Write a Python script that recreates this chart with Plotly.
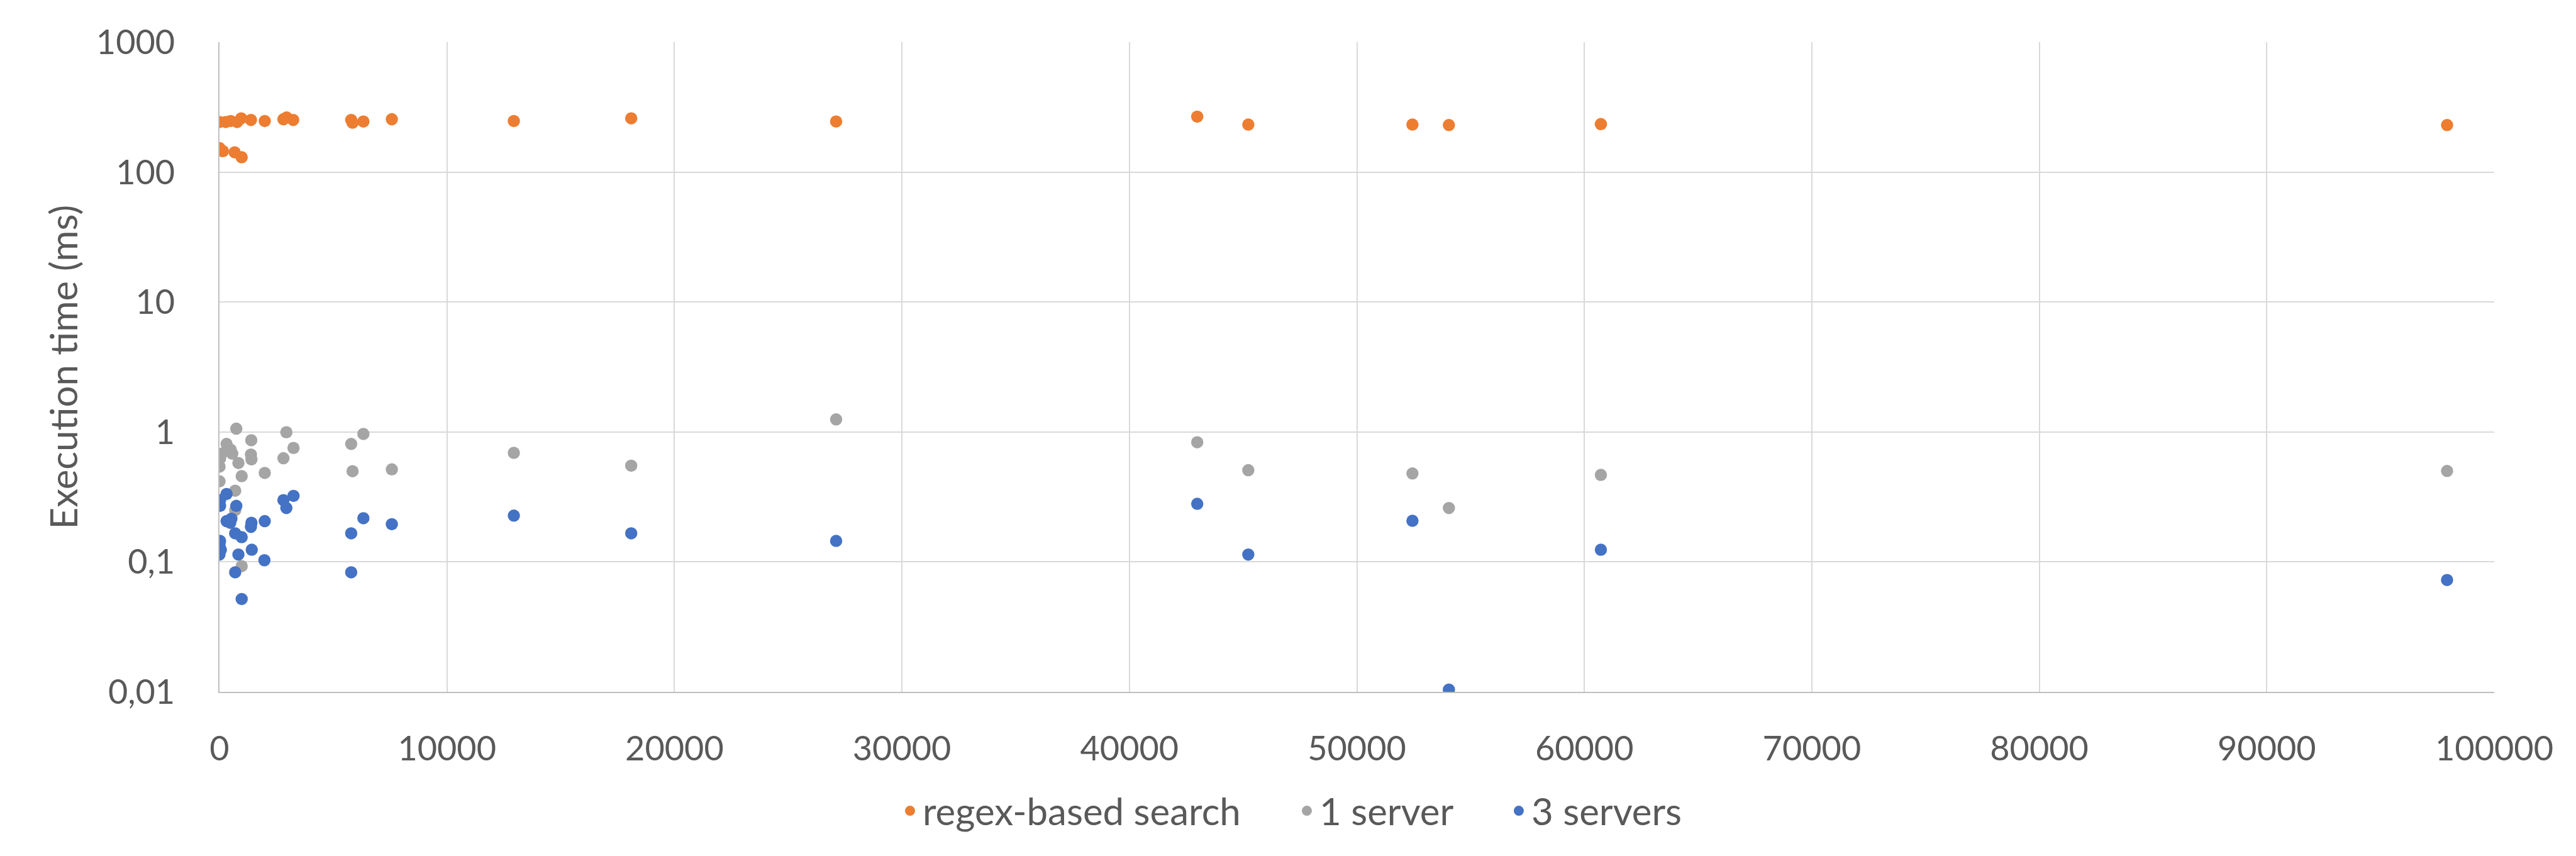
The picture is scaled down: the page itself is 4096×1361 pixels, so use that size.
import plotly.graph_objects as go

# ---------------- data ----------------
regex_x = [0, 275, 490, 775, 955, 1383, 1990, 2811, 2954, 3240, 5790, 5850, 6326, 7576,
           12940, 18100, 27108, 42982, 45227, 52443, 54046, 60727, 97926,
           0, 150, 668, 975]
regex_y = [243, 243, 247, 243, 259, 252, 247, 255, 263, 252, 252, 240, 245, 255,
           247, 259, 245, 267, 232, 232, 230, 234, 230,
           153, 145, 142, 130]

one_x = [739, 2940, 1397, 311, 490, 561, 96, 25, 1383, 1404, 832, 3254, 2811, 5790, 5850,
         0, 1990, 975, 0, 690, 690, 975, 6326, 7576, 12940, 18100,
         27108, 42982, 45227, 52443, 54046, 60727, 97926]
one_y = [1.06, 0.995, 0.864, 0.809, 0.731, 0.681, 0.681, 0.624, 0.67, 0.615, 0.577, 0.753, 0.628, 0.809, 0.499,
         0.541, 0.484, 0.457, 0.417, 0.353, 0.25, 0.0927, 0.966, 0.515, 0.69, 0.55,
         1.25, 0.833, 0.508, 0.479, 0.26, 0.467, 0.501]

three_x = [311, 25, 25, 739, 2811, 3254, 2940, 311, 525, 470, 1404, 1383, 1990, 690, 975,
           25, 0, 60, 0, 832, 1418, 1975, 690, 975, 5790, 5790, 6326, 7576, 12940, 18100,
           27108, 42982, 45227, 52443, 54046, 60727, 97926]
three_y = [0.333, 0.299, 0.270, 0.270, 0.299, 0.322, 0.260, 0.206, 0.215, 0.200, 0.200, 0.186, 0.206, 0.166, 0.155,
           0.145, 0.135, 0.124, 0.114, 0.114, 0.124, 0.103, 0.0832, 0.0518, 0.166, 0.0832, 0.217, 0.195, 0.227, 0.166,
           0.145, 0.280, 0.114, 0.207, 0.0104, 0.124, 0.0726]

series_names = ["regex-based search", "1 server", "3 servers"]
series_colors = ["#ED7D31", "#A5A5A5", "#4472C4"]

y_tickvals = [0.01, 0.1, 1, 10, 100, 1000]
y_ticktext = ["0,01", "0,1", "1", "10", "100", "1000"]
x_tickvals = [0, 10000, 20000, 30000, 40000, 50000, 60000, 70000, 80000, 90000, 100000]
x_ticktext = ["0", "10000", "20000", "30000", "40000", "50000", "60000", "70000", "80000", "90000", "100000"]

# ---------------- figure ----------------
W, H = 4096, 1361
ML, MR, MT, MB = 341, 138, 59, 269
FONT = "Lato, 'Open Sans', sans-serif"
TXT = "#595959"
FS_TICK = 54
FS_TEXT = 60

fig = go.Figure()
legend_ids = ["legend", "legend2", "legend3"]
for xs, ys, name, col, lg in zip([regex_x, one_x, three_x], [regex_y, one_y, three_y],
                                 series_names, series_colors, legend_ids):
    fig.add_trace(go.Scatter(
        x=xs, y=ys, mode="markers", name=name, legend=lg,
        marker=dict(color=col, size=19.5, line=dict(width=0)),
    ))

plot_w = W - ML - MR
dot_centers = [1446, 2077, 2414]
leg_common = dict(orientation="h", yanchor="middle", y=-0.183, xanchor="left",
                  bgcolor="rgba(0,0,0,0)", borderwidth=0,
                  font=dict(family=FONT, size=FS_TEXT, color=TXT), itemsizing="trace")
layout_legs = {}
for lg, dc in zip(legend_ids, dot_centers):
    d = dict(leg_common)
    d["x"] = (dc - 27 - ML) / plot_w
    layout_legs[lg] = d

fig.update_layout(
    width=W, height=H,
    margin=dict(l=ML, r=MR, t=MT, b=MB, pad=0),
    paper_bgcolor="white", plot_bgcolor="white",
    font=dict(family=FONT, size=FS_TICK, color=TXT),
    showlegend=True,
    **layout_legs,
)

fig.update_xaxes(
    range=[0, 100000], tickvals=x_tickvals, ticktext=x_ticktext,
    showgrid=True, gridcolor="#D9D9D9", gridwidth=1.6,
    showline=True, linecolor="#BFBFBF", linewidth=2.2,
    zeroline=False, ticks="", ticklabelstandoff=42,
    tickfont=dict(family=FONT, size=FS_TICK, color=TXT),
)
fig.update_yaxes(
    type="log", range=[-2, 3], tickvals=y_tickvals, ticktext=y_ticktext,
    showgrid=True, gridcolor="#D9D9D9", gridwidth=2,
    showline=True, linecolor="#BFBFBF", linewidth=2.2,
    zeroline=False, ticks="", ticklabelstandoff=58,
    tickfont=dict(family=FONT, size=FS_TICK, color=TXT),
)

fig.add_annotation(
    text="Execution time (ms)", xref="paper", yref="paper",
    x=(91 - ML) / plot_w, y=0.5, textangle=-90, showarrow=False,
    xanchor="center", yanchor="middle",
    font=dict(family=FONT, size=FS_TEXT, color=TXT),
)

fig.write_html("out.html")
